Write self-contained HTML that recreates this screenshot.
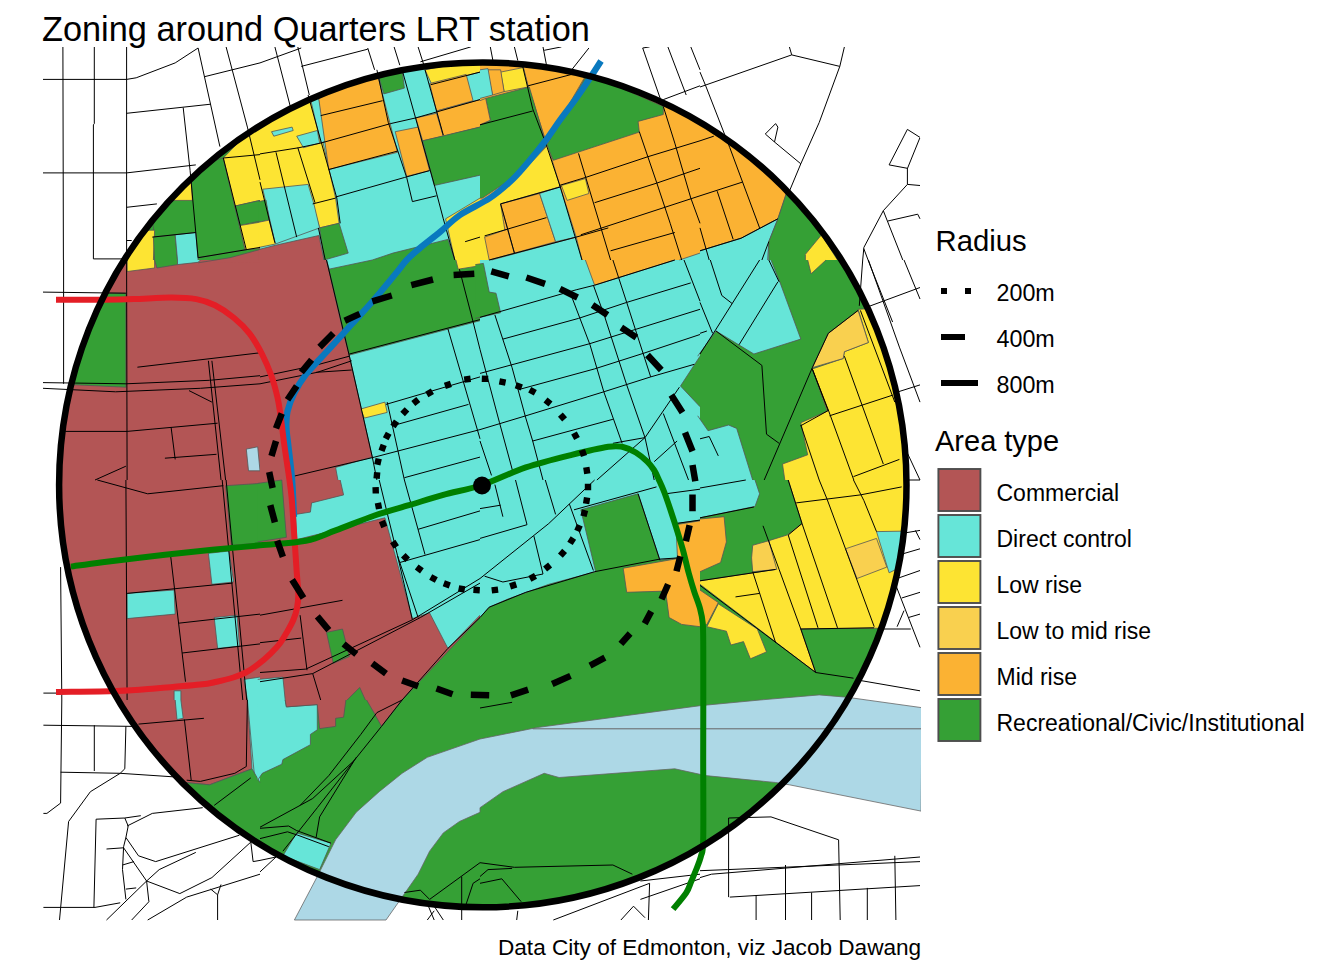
<!DOCTYPE html><html><head><meta charset="utf-8"><style>html,body{margin:0;padding:0;background:#fff;width:1344px;height:960px;overflow:hidden}svg{display:block}</style></head><body><svg width="1344" height="960" viewBox="0 0 1344 960">
<defs><clipPath id="cc"><ellipse cx="482.8" cy="484.9" rx="423.7" ry="422.4"/></clipPath><clipPath id="mr"><rect x="43" y="47" width="878" height="875"/></clipPath></defs>
<rect width="1344" height="960" fill="#fff"/>
<g clip-path="url(#cc)">
<polygon points="40,40 930,40 930,930 40,930" fill="#66E5D8" stroke="none"/>
<polygon points="40.0,40.0 260.0,40.0 260.0,260.0 40.0,260.0" fill="#35A035" stroke="none"/>
<polygon points="480.0,40.0 700.0,40.0 700.0,260.0 480.0,260.0" fill="#FBB233" stroke="none"/>
<polygon points="40.0,260.0 260.0,260.0 260.0,480.0 40.0,480.0" fill="#B35555" stroke="none"/>
<polygon points="700.0,260.0 920.0,260.0 920.0,480.0 700.0,480.0" fill="#35A035" stroke="none"/>
<polygon points="40.0,480.0 260.0,480.0 260.0,700.0 40.0,700.0" fill="#B35555" stroke="none"/>
<polygon points="260.0,480.0 480.0,480.0 480.0,700.0 260.0,700.0" fill="#B35555" stroke="none"/>
<polygon points="480.0,480.0 700.0,480.0 700.0,700.0 480.0,700.0" fill="#35A035" stroke="none"/>
<polygon points="700.0,480.0 920.0,480.0 920.0,700.0 700.0,700.0" fill="#35A035" stroke="none"/>
<polygon points="260.0,700.0 480.0,700.0 480.0,920.0 260.0,920.0" fill="#35A035" stroke="none"/>
<polygon points="480.0,700.0 700.0,700.0 700.0,920.0 480.0,920.0" fill="#35A035" stroke="none"/>
<polygon points="700.0,700.0 920.0,700.0 920.0,920.0 700.0,920.0" fill="#35A035" stroke="none"/>
<polygon points="186.7,168.3 223.3,158.0 245.1,249.7 198.1,257.7 177.5,260.0 154.6,237.1 150.0,200.4 168.3,198.1" fill="#35A035"/>
<path d="M186.7,168.3L223.3,158.0M223.3,158.0L245.1,249.7M245.1,249.7L198.1,257.7M198.1,257.7L177.5,260.0M177.5,260.0L154.6,237.1M154.6,237.1L150.0,200.4M150.0,200.4L168.3,198.1M168.3,198.1L186.7,168.3" fill="none" stroke="#555" stroke-width="0.8"/>
<polygon points="223.3,158.0 260.0,120.2 260.0,200.4 234.8,206.1" fill="#FDE433"/>
<path d="M223.3,158.0L260.0,120.2M260.0,200.4L234.8,206.1M234.8,206.1L223.3,158.0" fill="none" stroke="#555" stroke-width="0.8"/>
<polygon points="234.8,206.1 260.0,200.4 260.0,221.0 239.6,225.6" fill="#35A035"/>
<path d="M234.8,206.1L260.0,200.4M260.0,221.0L239.6,225.6M239.6,225.6L234.8,206.1" fill="none" stroke="#555" stroke-width="0.8"/>
<polygon points="239.6,225.6 260.0,222.2 260.0,248.5 245.1,249.7" fill="#FDE433"/>
<path d="M239.6,225.6L260.0,222.2M260.0,248.5L245.1,249.7M245.1,249.7L239.6,225.6" fill="none" stroke="#555" stroke-width="0.8"/>
<polygon points="168.3,200.4 191.2,177.5 192.4,200.4" fill="#FDE433"/>
<path d="M168.3,200.4L191.2,177.5M191.2,177.5L192.4,200.4M192.4,200.4L168.3,200.4" fill="none" stroke="#555" stroke-width="0.8"/>
<polygon points="127.1,260.0 138.5,230.2 154.6,230.2 153.4,260.0" fill="#FDE433"/>
<path d="M127.1,260.0L138.5,230.2M138.5,230.2L154.6,230.2M154.6,230.2L153.4,260.0" fill="none" stroke="#555" stroke-width="0.8"/>
<polygon points="153.4,237.1 175.2,234.8 177.5,260.0 154.6,260.0" fill="#35A035"/>
<path d="M153.4,237.1L175.2,234.8M175.2,234.8L177.5,260.0M154.6,260.0L153.4,237.1" fill="none" stroke="#555" stroke-width="0.8"/>
<polygon points="175.2,234.8 195.8,232.5 198.1,260.0 177.5,260.0" fill="#66E5D8"/>
<path d="M175.2,234.8L195.8,232.5M195.8,232.5L198.1,260.0M177.5,260.0L175.2,234.8" fill="none" stroke="#555" stroke-width="0.8"/>
<polygon points="198.1,262.8 230.0,257.7 261.1,249.2 261.1,262.3" fill="#B35555"/>
<path d="M198.1,262.8L230.0,257.7M230.0,257.7L261.1,249.2" fill="none" stroke="#555" stroke-width="0.8"/>
<polygon points="260.0,124.8 312.7,97.3 335.6,198.1 339.1,223.3 319.6,227.9 312.7,203.9 260.0,214.2" fill="#FDE433"/>
<path d="M260.0,124.8L312.7,97.3M312.7,97.3L335.6,198.1M335.6,198.1L339.1,223.3M339.1,223.3L319.6,227.9M319.6,227.9L312.7,203.9M312.7,203.9L260.0,214.2" fill="none" stroke="#555" stroke-width="0.8"/>
<polygon points="310.4,98.4 318.4,95.0 326.5,140.8 320.7,143.1" fill="#66E5D8"/>
<path d="M310.4,98.4L318.4,95.0M318.4,95.0L326.5,140.8M326.5,140.8L320.7,143.1M320.7,143.1L310.4,98.4" fill="none" stroke="#555" stroke-width="0.8"/>
<polygon points="271.5,131.7 292.1,127.1 293.2,130.5 273.8,136.2" fill="#66E5D8"/>
<path d="M271.5,131.7L292.1,127.1M292.1,127.1L293.2,130.5M293.2,130.5L273.8,136.2M273.8,136.2L271.5,131.7" fill="none" stroke="#555" stroke-width="0.8"/>
<polygon points="296.7,136.2 317.3,130.5 319.6,143.1 303.5,147.7" fill="#66E5D8"/>
<path d="M296.7,136.2L317.3,130.5M317.3,130.5L319.6,143.1M319.6,143.1L303.5,147.7M303.5,147.7L296.7,136.2" fill="none" stroke="#555" stroke-width="0.8"/>
<polygon points="262.8,189.2 308.1,184.4 313.9,203.9 319.6,227.9 275.4,244.0" fill="#66E5D8"/>
<path d="M262.8,189.2L308.1,184.4M308.1,184.4L313.9,203.9M313.9,203.9L319.6,227.9M319.6,227.9L275.4,244.0M275.4,244.0L262.8,189.2" fill="none" stroke="#555" stroke-width="0.8"/>
<polygon points="258.9,201.6 266.0,200.0 269.2,220.1 258.9,222.2" fill="#35A035"/>
<path d="M258.9,201.6L266.0,200.0M266.0,200.0L269.2,220.1M269.2,220.1L258.9,222.2" fill="none" stroke="#555" stroke-width="0.8"/>
<polygon points="258.9,222.2 269.2,220.1 275.4,244.0 258.9,247.4" fill="#FDE433"/>
<path d="M258.9,222.2L269.2,220.1M269.2,220.1L275.4,244.0M275.4,244.0L258.9,247.4" fill="none" stroke="#555" stroke-width="0.8"/>
<polygon points="258.9,249.5 275.4,245.3 318.9,235.5 324.2,261.1 258.9,261.1" fill="#B35555"/>
<path d="M258.9,249.5L275.4,245.3M275.4,245.3L318.9,235.5M318.9,235.5L324.2,261.1" fill="none" stroke="#555" stroke-width="0.8"/>
<polygon points="319.6,227.9 339.1,223.3 348.2,253.1 324.2,260.0" fill="#35A035"/>
<path d="M319.6,227.9L339.1,223.3M339.1,223.3L348.2,253.1M348.2,253.1L324.2,260.0M324.2,260.0L319.6,227.9" fill="none" stroke="#555" stroke-width="0.8"/>
<polygon points="318.4,96.1 378.0,76.7 397.5,152.3 328.8,169.5" fill="#FBB233"/>
<path d="M318.4,96.1L378.0,76.7M378.0,76.7L397.5,152.3M397.5,152.3L328.8,169.5M328.8,169.5L318.4,96.1" fill="none" stroke="#555" stroke-width="0.8"/>
<polygon points="378.0,74.4 402.1,69.8 404.4,88.1 383.8,93.9" fill="#35A035"/>
<path d="M378.0,74.4L402.1,69.8M402.1,69.8L404.4,88.1M404.4,88.1L383.8,93.9M383.8,93.9L378.0,74.4" fill="none" stroke="#555" stroke-width="0.8"/>
<polygon points="395.2,131.7 418.1,127.1 429.6,170.6 406.7,176.4" fill="#FBB233"/>
<path d="M395.2,131.7L418.1,127.1M418.1,127.1L429.6,170.6M429.6,170.6L406.7,176.4M406.7,176.4L395.2,131.7" fill="none" stroke="#555" stroke-width="0.8"/>
<polygon points="415.8,117.9 436.5,113.3 443.3,136.2 422.7,140.8" fill="#FBB233"/>
<path d="M415.8,117.9L436.5,113.3M436.5,113.3L443.3,136.2M443.3,136.2L422.7,140.8M422.7,140.8L415.8,117.9" fill="none" stroke="#555" stroke-width="0.8"/>
<polygon points="425.0,69.8 480.0,58.3 480.0,72.1 431.9,84.7" fill="#FDE433"/>
<path d="M425.0,69.8L480.0,58.3M480.0,72.1L431.9,84.7M431.9,84.7L425.0,69.8" fill="none" stroke="#555" stroke-width="0.8"/>
<polygon points="429.6,83.5 466.2,74.4 473.1,100.7 436.5,111.0" fill="#FBB233"/>
<path d="M429.6,83.5L466.2,74.4M466.2,74.4L473.1,100.7M473.1,100.7L436.5,111.0M436.5,111.0L429.6,83.5" fill="none" stroke="#555" stroke-width="0.8"/>
<polygon points="436.5,111.0 480.0,99.6 480.0,127.1 443.3,136.2" fill="#FBB233"/>
<path d="M436.5,111.0L480.0,99.6M480.0,127.1L443.3,136.2M443.3,136.2L436.5,111.0" fill="none" stroke="#555" stroke-width="0.8"/>
<polygon points="422.7,140.8 480.0,127.1 480.0,175.2 434.2,185.5" fill="#35A035"/>
<path d="M422.7,140.8L480.0,127.1M480.0,175.2L434.2,185.5M434.2,185.5L422.7,140.8" fill="none" stroke="#555" stroke-width="0.8"/>
<polygon points="445.6,218.8 480.0,198.1 480.0,260.0 454.8,260.0" fill="#FDE433"/>
<path d="M445.6,218.8L480.0,198.1M454.8,260.0L445.6,218.8" fill="none" stroke="#555" stroke-width="0.8"/>
<polygon points="372.3,260.0 392.9,253.1 447.9,239.4 454.8,260.0" fill="#35A035"/>
<path d="M372.3,260.0L392.9,253.1M392.9,253.1L447.9,239.4M447.9,239.4L454.8,260.0" fill="none" stroke="#555" stroke-width="0.8"/>
<polygon points="587.7,73.2 663.3,106.5 663.3,114.5 638.1,121.4 639.3,132.1 553.3,160.3 546.5,145.4" fill="#35A035"/>
<path d="M587.7,73.2L663.3,106.5M663.3,106.5L663.3,114.5M663.3,114.5L638.1,121.4M638.1,121.4L639.3,132.1M639.3,132.1L553.3,160.3M553.3,160.3L546.5,145.4M546.5,145.4L587.7,73.2" fill="none" stroke="#555" stroke-width="0.8"/>
<polygon points="522.4,65.2 587.7,72.1 546.5,143.1 528.1,85.8" fill="#FBB233"/>
<path d="M522.4,65.2L587.7,72.1M587.7,72.1L546.5,143.1M546.5,143.1L528.1,85.8M528.1,85.8L522.4,65.2" fill="none" stroke="#555" stroke-width="0.8"/>
<polygon points="500.6,72.1 523.5,67.5 528.1,87.0 504.1,91.6" fill="#FDE433"/>
<path d="M500.6,72.1L523.5,67.5M523.5,67.5L528.1,87.0M528.1,87.0L504.1,91.6M504.1,91.6L500.6,72.1" fill="none" stroke="#555" stroke-width="0.8"/>
<polygon points="486.9,69.8 500.6,69.8 504.1,91.6 492.6,95.0" fill="#FBB233"/>
<path d="M486.9,69.8L500.6,69.8M500.6,69.8L504.1,91.6M504.1,91.6L492.6,95.0M492.6,95.0L486.9,69.8" fill="none" stroke="#555" stroke-width="0.8"/>
<polygon points="480.0,69.8 488.0,68.6 492.6,95.0 480.0,98.4" fill="#66E5D8"/>
<path d="M480.0,69.8L488.0,68.6M488.0,68.6L492.6,95.0M492.6,95.0L480.0,98.4" fill="none" stroke="#555" stroke-width="0.8"/>
<polygon points="485.7,98.4 529.3,87.0 546.5,145.4 516.7,175.2 482.3,198.1 480.0,198.1 480.0,124.8 490.3,120.2" fill="#35A035"/>
<path d="M485.7,98.4L529.3,87.0M529.3,87.0L546.5,145.4M546.5,145.4L516.7,175.2M516.7,175.2L482.3,198.1M482.3,198.1L480.0,198.1M480.0,124.8L490.3,120.2M490.3,120.2L485.7,98.4" fill="none" stroke="#555" stroke-width="0.8"/>
<polygon points="480.0,100.7 485.7,98.4 490.3,120.2 480.0,124.8" fill="#FBB233"/>
<path d="M480.0,100.7L485.7,98.4M485.7,98.4L490.3,120.2M490.3,120.2L480.0,124.8" fill="none" stroke="#555" stroke-width="0.8"/>
<polygon points="480.0,205.0 516.7,177.5 547.6,145.4 560.2,186.7 500.6,203.9 509.8,260.0 480.0,260.0" fill="#FDE433"/>
<path d="M480.0,205.0L516.7,177.5M516.7,177.5L547.6,145.4M547.6,145.4L560.2,186.7M560.2,186.7L500.6,203.9M500.6,203.9L509.8,260.0" fill="none" stroke="#555" stroke-width="0.8"/>
<polygon points="500.6,203.9 539.6,193.5 555.6,241.7 514.4,253.1" fill="#FBB233"/>
<path d="M500.6,203.9L539.6,193.5M539.6,193.5L555.6,241.7M555.6,241.7L514.4,253.1M514.4,253.1L500.6,203.9" fill="none" stroke="#555" stroke-width="0.8"/>
<polygon points="484.6,237.1 507.5,229.1 514.4,253.1 489.2,260.0" fill="#FBB233"/>
<path d="M484.6,237.1L507.5,229.1M507.5,229.1L514.4,253.1M514.4,253.1L489.2,260.0M489.2,260.0L484.6,237.1" fill="none" stroke="#555" stroke-width="0.8"/>
<polygon points="539.6,193.5 560.2,186.7 576.2,237.1 555.6,241.7" fill="#66E5D8"/>
<path d="M539.6,193.5L560.2,186.7M560.2,186.7L576.2,237.1M576.2,237.1L555.6,241.7M555.6,241.7L539.6,193.5" fill="none" stroke="#555" stroke-width="0.8"/>
<polygon points="491.5,260.0 576.2,237.1 582.0,260.0" fill="#66E5D8"/>
<path d="M491.5,260.0L576.2,237.1M576.2,237.1L582.0,260.0" fill="none" stroke="#555" stroke-width="0.8"/>
<polygon points="561.4,185.5 585.4,178.6 588.9,193.5 567.1,200.4" fill="#FDE433"/>
<path d="M561.4,185.5L585.4,178.6M585.4,178.6L588.9,193.5M588.9,193.5L567.1,200.4M567.1,200.4L561.4,185.5" fill="none" stroke="#555" stroke-width="0.8"/>
<polygon points="679.4,260.0 700.0,253.1 700.0,260.0" fill="#66E5D8"/>
<path d="M679.4,260.0L700.0,253.1" fill="none" stroke="#555" stroke-width="0.8"/>
<polygon points="700.0,108.8 787.1,191.2 777.9,218.8 741.2,238.2 700.0,250.8" fill="#FBB233"/>
<path d="M700.0,108.8L787.1,191.2M787.1,191.2L777.9,218.8M777.9,218.8L741.2,238.2M741.2,238.2L700.0,250.8" fill="none" stroke="#555" stroke-width="0.8"/>
<polygon points="700.0,250.8 741.2,238.2 777.9,218.8 768.8,241.7 767.6,260.0 700.0,260.0" fill="#66E5D8"/>
<path d="M700.0,250.8L741.2,238.2M741.2,238.2L777.9,218.8M777.9,218.8L768.8,241.7M768.8,241.7L767.6,260.0" fill="none" stroke="#555" stroke-width="0.8"/>
<polygon points="787.1,191.2 860.4,260.0 768.8,260.0 768.8,241.7 777.9,218.8" fill="#35A035"/>
<path d="M787.1,191.2L860.4,260.0M768.8,260.0L768.8,241.7M768.8,241.7L777.9,218.8M777.9,218.8L787.1,191.2" fill="none" stroke="#555" stroke-width="0.8"/>
<polygon points="805.4,254.3 821.5,234.8 837.5,260.0 805.4,260.0" fill="#FDE433"/>
<path d="M805.4,254.3L821.5,234.8M821.5,234.8L837.5,260.0M805.4,260.0L805.4,254.3" fill="none" stroke="#555" stroke-width="0.8"/>
<polygon points="53.8,293.2 125.9,293.2 125.9,387.2 53.8,383.8" fill="#35A035"/>
<path d="M53.8,293.2L125.9,293.2M125.9,293.2L125.9,387.2M125.9,387.2L53.8,383.8M53.8,383.8L53.8,293.2" fill="none" stroke="#555" stroke-width="0.8"/>
<polygon points="127.1,260.0 154.6,260.0 154.6,268.0 127.1,271.5" fill="#FDE433"/>
<path d="M154.6,260.0L154.6,268.0M154.6,268.0L127.1,271.5M127.1,271.5L127.1,260.0" fill="none" stroke="#555" stroke-width="0.8"/>
<polygon points="154.6,260.0 177.5,260.0 177.5,264.6 156.9,268.0" fill="#35A035"/>
<path d="M177.5,260.0L177.5,264.6M177.5,264.6L156.9,268.0M156.9,268.0L154.6,260.0" fill="none" stroke="#555" stroke-width="0.8"/>
<polygon points="177.5,260.0 200.4,260.0 198.1,262.3 177.5,264.6" fill="#66E5D8"/>
<path d="M200.4,260.0L198.1,262.3M198.1,262.3L177.5,264.6M177.5,264.6L177.5,260.0" fill="none" stroke="#555" stroke-width="0.8"/>
<polygon points="246.3,449.1 257.7,446.8 260.0,470.8 248.5,470.8" fill="#ADD8E6"/>
<path d="M246.3,449.1L257.7,446.8M257.7,446.8L260.0,470.8M260.0,470.8L248.5,470.8M248.5,470.8L246.3,449.1" fill="none" stroke="#555" stroke-width="0.8"/>
<polygon points="260.0,260.0 326.5,260.0 342.5,328.8 349.4,356.2 372.3,457.1 335.6,467.4 337.9,480.0 260.0,480.0" fill="#B35555"/>
<path d="M326.5,260.0L342.5,328.8M342.5,328.8L349.4,356.2M349.4,356.2L372.3,457.1M372.3,457.1L335.6,467.4M335.6,467.4L337.9,480.0" fill="none" stroke="#555" stroke-width="0.8"/>
<polygon points="326.5,260.0 372.3,260.0 372.3,262.3 331.0,274.9" fill="#66E5D8"/>
<path d="M372.3,260.0L372.3,262.3M372.3,262.3L331.0,274.9M331.0,274.9L326.5,260.0" fill="none" stroke="#555" stroke-width="0.8"/>
<polygon points="328.8,269.2 372.3,260.0 480.0,260.0 480.0,320.7 349.4,355.1" fill="#35A035"/>
<path d="M328.8,269.2L372.3,260.0M480.0,320.7L349.4,355.1M349.4,355.1L328.8,269.2" fill="none" stroke="#555" stroke-width="0.8"/>
<polygon points="455.9,260.0 480.0,260.0 480.0,265.7 458.2,269.2" fill="#FDE433"/>
<path d="M480.0,265.7L458.2,269.2M458.2,269.2L455.9,260.0" fill="none" stroke="#555" stroke-width="0.8"/>
<polygon points="360.8,409.0 384.9,402.1 387.2,412.4 364.3,418.1" fill="#FDE433"/>
<path d="M360.8,409.0L384.9,402.1M384.9,402.1L387.2,412.4M387.2,412.4L364.3,418.1M364.3,418.1L360.8,409.0" fill="none" stroke="#555" stroke-width="0.8"/>
<polygon points="475.4,264.6 483.4,263.4 489.2,292.1 496.0,293.2 500.6,312.7 475.4,318.4" fill="#35A035"/>
<path d="M475.4,264.6L483.4,263.4M483.4,263.4L489.2,292.1M489.2,292.1L496.0,293.2M496.0,293.2L500.6,312.7M500.6,312.7L475.4,318.4" fill="none" stroke="#555" stroke-width="0.8"/>
<polygon points="585.4,260.0 674.8,260.0 594.6,285.2" fill="#FBB233"/>
<path d="M674.8,260.0L594.6,285.2M594.6,285.2L585.4,260.0" fill="none" stroke="#555" stroke-width="0.8"/>
<polygon points="680.5,386.0 700.0,356.2 700.0,406.7" fill="#35A035"/>
<path d="M680.5,386.0L700.0,356.2M700.0,406.7L680.5,386.0" fill="none" stroke="#555" stroke-width="0.8"/>
<polygon points="697.7,260.0 771.0,260.0 780.2,282.9 800.8,339.1 753.9,354.0 716.0,331.0 697.7,356.2" fill="#66E5D8"/>
<path d="M771.0,260.0L780.2,282.9M780.2,282.9L800.8,339.1M800.8,339.1L753.9,354.0M753.9,354.0L716.0,331.0M716.0,331.0L697.7,356.2" fill="none" stroke="#555" stroke-width="0.8"/>
<polygon points="697.7,415.8 708.0,430.7 728.6,425.0 736.7,428.4 752.7,480.0 697.7,480.0" fill="#66E5D8"/>
<path d="M697.7,415.8L708.0,430.7M708.0,430.7L728.6,425.0M728.6,425.0L736.7,428.4M736.7,428.4L752.7,480.0" fill="none" stroke="#555" stroke-width="0.8"/>
<polygon points="807.7,260.0 826.0,260.0 811.1,273.8" fill="#FDE433"/>
<path d="M826.0,260.0L811.1,273.8M811.1,273.8L807.7,260.0" fill="none" stroke="#555" stroke-width="0.8"/>
<polygon points="858.1,309.3 920.0,305.8 920.0,480.0 784.8,480.0 782.5,464.0 807.7,454.8 800.8,422.7 827.2,411.2 812.3,368.9 843.2,358.5 844.4,351.7 868.4,342.5" fill="#FDE433"/>
<path d="M858.1,309.3L920.0,305.8M784.8,480.0L782.5,464.0M782.5,464.0L807.7,454.8M807.7,454.8L800.8,422.7M800.8,422.7L827.2,411.2M827.2,411.2L812.3,368.9M812.3,368.9L843.2,358.5M843.2,358.5L844.4,351.7M844.4,351.7L868.4,342.5M868.4,342.5L858.1,309.3" fill="none" stroke="#555" stroke-width="0.8"/>
<polygon points="812.3,367.7 828.3,333.3 858.1,310.4 868.4,342.5 844.4,351.7 843.2,358.5" fill="#F9D04F"/>
<path d="M812.3,367.7L828.3,333.3M828.3,333.3L858.1,310.4M858.1,310.4L868.4,342.5M868.4,342.5L844.4,351.7M844.4,351.7L843.2,358.5M843.2,358.5L812.3,367.7" fill="none" stroke="#555" stroke-width="0.8"/>
<polygon points="225.6,485.7 260.0,483.4 260.0,543.0 231.4,545.3" fill="#35A035"/>
<path d="M225.6,485.7L260.0,483.4M260.0,543.0L231.4,545.3M231.4,545.3L225.6,485.7" fill="none" stroke="#555" stroke-width="0.8"/>
<polygon points="208.4,553.3 229.1,551.0 233.6,582.0 211.9,584.3" fill="#66E5D8"/>
<path d="M208.4,553.3L229.1,551.0M229.1,551.0L233.6,582.0M233.6,582.0L211.9,584.3M211.9,584.3L208.4,553.3" fill="none" stroke="#555" stroke-width="0.8"/>
<polygon points="127.1,593.4 174.1,590.0 175.2,614.1 127.1,618.6" fill="#66E5D8"/>
<path d="M127.1,593.4L174.1,590.0M174.1,590.0L175.2,614.1M175.2,614.1L127.1,618.6M127.1,618.6L127.1,593.4" fill="none" stroke="#555" stroke-width="0.8"/>
<polygon points="214.2,617.5 237.1,615.2 239.4,646.1 217.6,648.4" fill="#66E5D8"/>
<path d="M214.2,617.5L237.1,615.2M237.1,615.2L239.4,646.1M239.4,646.1L217.6,648.4M217.6,648.4L214.2,617.5" fill="none" stroke="#555" stroke-width="0.8"/>
<polygon points="174.1,690.8 180.9,690.8 180.9,700.0 174.1,700.0" fill="#66E5D8"/>
<path d="M174.1,690.8L180.9,690.8M180.9,690.8L180.9,700.0M174.1,700.0L174.1,690.8" fill="none" stroke="#555" stroke-width="0.8"/>
<polygon points="244.0,679.4 260.0,677.1 260.0,700.0 247.4,700.0" fill="#66E5D8"/>
<path d="M244.0,679.4L260.0,677.1M247.4,700.0L244.0,679.4" fill="none" stroke="#555" stroke-width="0.8"/>
<polygon points="257.7,483.4 281.8,480.0 286.4,537.3 257.7,541.9" fill="#35A035"/>
<path d="M257.7,483.4L281.8,480.0M281.8,480.0L286.4,537.3M286.4,537.3L257.7,541.9" fill="none" stroke="#555" stroke-width="0.8"/>
<polygon points="340.2,480.0 343.6,494.9 311.6,502.9 310.4,512.1 295.5,514.4 296.7,539.6 384.9,517.8 412.4,618.6 429.6,612.9 447.9,648.4 480.0,615.2 480.0,480.0" fill="#66E5D8"/>
<path d="M340.2,480.0L343.6,494.9M343.6,494.9L311.6,502.9M311.6,502.9L310.4,512.1M310.4,512.1L295.5,514.4M295.5,514.4L296.7,539.6M296.7,539.6L384.9,517.8M384.9,517.8L412.4,618.6M412.4,618.6L429.6,612.9M429.6,612.9L447.9,648.4M447.9,648.4L480.0,615.2" fill="none" stroke="#555" stroke-width="0.8"/>
<polygon points="402.1,700.0 480.0,617.5 480.0,700.0" fill="#35A035"/>
<path d="M402.1,700.0L480.0,617.5" fill="none" stroke="#555" stroke-width="0.8"/>
<polygon points="326.5,632.4 342.5,629.0 349.4,656.5 333.3,663.3" fill="#35A035"/>
<path d="M326.5,632.4L342.5,629.0M342.5,629.0L349.4,656.5M349.4,656.5L333.3,663.3M333.3,663.3L326.5,632.4" fill="none" stroke="#555" stroke-width="0.8"/>
<polygon points="347.1,700.0 359.7,687.4 365.4,700.0" fill="#35A035"/>
<path d="M347.1,700.0L359.7,687.4M359.7,687.4L365.4,700.0" fill="none" stroke="#555" stroke-width="0.8"/>
<polygon points="257.7,679.4 282.9,677.1 285.2,700.0 257.7,700.0" fill="#66E5D8"/>
<path d="M257.7,679.4L282.9,677.1M282.9,677.1L285.2,700.0" fill="none" stroke="#555" stroke-width="0.8"/>
<polygon points="480.0,480.0 700.0,480.0 700.0,520.1 677.1,523.5 678.2,557.9 659.9,560.2 638.1,493.8 580.8,509.8 595.7,571.7 548.8,584.3 507.5,599.2 489.2,607.2 480.0,617.5" fill="#66E5D8"/>
<path d="M700.0,520.1L677.1,523.5M677.1,523.5L678.2,557.9M678.2,557.9L659.9,560.2M659.9,560.2L638.1,493.8M638.1,493.8L580.8,509.8M580.8,509.8L595.7,571.7M595.7,571.7L548.8,584.3M548.8,584.3L507.5,599.2M507.5,599.2L489.2,607.2M489.2,607.2L480.0,617.5" fill="none" stroke="#555" stroke-width="0.8"/>
<polygon points="623.2,568.2 677.5,558.6 675.9,524.7 700.0,520.8 700.0,626.7 681.7,624.4 669.1,617.5 665.6,591.1 626.7,592.3" fill="#FBB233"/>
<path d="M623.2,568.2L677.5,558.6M677.5,558.6L675.9,524.7M675.9,524.7L700.0,520.8M700.0,626.7L681.7,624.4M681.7,624.4L669.1,617.5M669.1,617.5L665.6,591.1M665.6,591.1L626.7,592.3M626.7,592.3L623.2,568.2" fill="none" stroke="#555" stroke-width="0.8"/>
<polygon points="700.0,480.0 755.0,480.0 759.6,493.8 755.0,506.4 700.0,517.8" fill="#66E5D8"/>
<path d="M755.0,480.0L759.6,493.8M759.6,493.8L755.0,506.4M755.0,506.4L700.0,517.8" fill="none" stroke="#555" stroke-width="0.8"/>
<polygon points="700.0,519.0 724.1,516.7 726.4,541.9 720.6,562.5 700.0,571.7" fill="#FBB233"/>
<path d="M700.0,519.0L724.1,516.7M724.1,516.7L726.4,541.9M726.4,541.9L720.6,562.5M720.6,562.5L700.0,571.7" fill="none" stroke="#555" stroke-width="0.8"/>
<polygon points="788.2,480.0 920.0,480.0 920.0,627.8 800.8,629.0 815.7,672.5 700.0,584.3 700.0,580.8 775.6,569.4 768.8,540.7 787.1,535.0 802.0,523.5" fill="#FDE433"/>
<path d="M920.0,627.8L800.8,629.0M800.8,629.0L815.7,672.5M815.7,672.5L700.0,584.3M700.0,580.8L775.6,569.4M775.6,569.4L768.8,540.7M768.8,540.7L787.1,535.0M787.1,535.0L802.0,523.5M802.0,523.5L788.2,480.0" fill="none" stroke="#555" stroke-width="0.8"/>
<polygon points="752.7,545.3 768.8,540.7 776.8,569.4 752.7,571.7 751.6,557.9" fill="#F9D04F"/>
<path d="M752.7,545.3L768.8,540.7M768.8,540.7L776.8,569.4M776.8,569.4L752.7,571.7M752.7,571.7L751.6,557.9M751.6,557.9L752.7,545.3" fill="none" stroke="#555" stroke-width="0.8"/>
<polygon points="845.5,548.8 876.5,538.4 886.8,567.1 857.0,578.5" fill="#F9D04F"/>
<path d="M845.5,548.8L876.5,538.4M876.5,538.4L886.8,567.1M886.8,567.1L857.0,578.5M857.0,578.5L845.5,548.8" fill="none" stroke="#555" stroke-width="0.8"/>
<polygon points="876.5,531.6 920.0,530.9 920.0,557.9 889.1,572.8" fill="#66E5D8"/>
<path d="M876.5,531.6L920.0,530.9M920.0,557.9L889.1,572.8M889.1,572.8L876.5,531.6" fill="none" stroke="#555" stroke-width="0.8"/>
<polygon points="706.9,626.7 718.3,603.8 757.3,629.0 766.5,651.9 750.4,658.8 743.5,641.6 730.9,645.0 726.4,631.2" fill="#FDE433"/>
<path d="M706.9,626.7L718.3,603.8M718.3,603.8L757.3,629.0M757.3,629.0L766.5,651.9M766.5,651.9L750.4,658.8M750.4,658.8L743.5,641.6M743.5,641.6L730.9,645.0M730.9,645.0L726.4,631.2M726.4,631.2L706.9,626.7" fill="none" stroke="#555" stroke-width="0.8"/>
<polygon points="700.0,590.0 718.3,602.6 706.9,624.4 700.0,626.7" fill="#FBB233"/>
<path d="M700.0,590.0L718.3,602.6M718.3,602.6L706.9,624.4M706.9,624.4L700.0,626.7" fill="none" stroke="#555" stroke-width="0.8"/>
<polygon points="108.8,700.0 247.4,700.0 252.0,768.8 209.6,784.8 184.4,782.5 131.7,734.4" fill="#B35555"/>
<path d="M247.4,700.0L252.0,768.8M252.0,768.8L209.6,784.8M209.6,784.8L184.4,782.5M184.4,782.5L131.7,734.4M131.7,734.4L108.8,700.0" fill="none" stroke="#555" stroke-width="0.8"/>
<polygon points="175.2,700.0 180.9,700.0 183.2,718.3 177.0,719.5" fill="#66E5D8"/>
<path d="M180.9,700.0L183.2,718.3M183.2,718.3L177.0,719.5M177.0,719.5L175.2,700.0" fill="none" stroke="#555" stroke-width="0.8"/>
<polygon points="247.4,700.0 260.0,700.0 260.0,782.5 255.4,784.8 253.1,761.9" fill="#66E5D8"/>
<path d="M260.0,782.5L255.4,784.8M255.4,784.8L253.1,761.9M253.1,761.9L247.4,700.0" fill="none" stroke="#555" stroke-width="0.8"/>
<polygon points="184.4,782.5 209.6,784.8 252.0,768.8 260.0,782.5 260.0,920.0 177.5,920.0" fill="#35A035"/>
<path d="M184.4,782.5L209.6,784.8M209.6,784.8L252.0,768.8M252.0,768.8L260.0,782.5M177.5,920.0L184.4,782.5" fill="none" stroke="#555" stroke-width="0.8"/>
<polygon points="257.7,700.0 285.2,700.0 286.4,706.9 317.3,704.6 317.3,729.8 310.4,734.4 310.4,744.7 282.9,759.6 281.8,764.2 262.3,773.3 257.7,780.2" fill="#66E5D8"/>
<path d="M285.2,700.0L286.4,706.9M286.4,706.9L317.3,704.6M317.3,704.6L317.3,729.8M317.3,729.8L310.4,734.4M310.4,734.4L310.4,744.7M310.4,744.7L282.9,759.6M282.9,759.6L281.8,764.2M281.8,764.2L262.3,773.3M262.3,773.3L257.7,780.2" fill="none" stroke="#555" stroke-width="0.8"/>
<polygon points="285.2,700.0 345.9,700.0 343.6,717.2 335.6,718.3 335.6,726.4 319.6,728.6 317.3,704.6 286.4,706.9" fill="#B35555"/>
<path d="M345.9,700.0L343.6,717.2M343.6,717.2L335.6,718.3M335.6,718.3L335.6,726.4M335.6,726.4L319.6,728.6M319.6,728.6L317.3,704.6M317.3,704.6L286.4,706.9M286.4,706.9L285.2,700.0" fill="none" stroke="#555" stroke-width="0.8"/>
<polygon points="366.6,700.0 402.1,700.0 381.5,726.4 374.6,713.8" fill="#B35555"/>
<path d="M402.1,700.0L381.5,726.4M381.5,726.4L374.6,713.8M374.6,713.8L366.6,700.0" fill="none" stroke="#555" stroke-width="0.8"/>
<polygon points="296.7,832.9 331.0,843.2 319.6,869.6 282.9,855.8" fill="#66E5D8"/>
<path d="M296.7,832.9L331.0,843.2M331.0,843.2L319.6,869.6M319.6,869.6L282.9,855.8M282.9,855.8L296.7,832.9" fill="none" stroke="#555" stroke-width="0.8"/>
</g>
<g clip-path="url(#mr)"><polygon points="294.4,920.0 317.3,876.5 335.6,839.8 356.2,812.3 379.2,791.7 402.1,773.3 427.3,757.3 480.0,739.0 537.3,727.5 700.0,705.7 760,700 819.2,694.9 846.7,697.2 922,707.7 921.1,811.1 789.4,784.8 775.6,782.5 705.7,775.6 674.8,768.8 559.1,777.5 544.2,773.3 502.9,791.7 480.0,807.7 480.0,812.3 459.4,821.5 443.3,832.9 429.6,851.2 418.1,874.2 402.1,897.1 386.0,920.0" fill="#ADD8E6" stroke="#666" stroke-width="0.8"/><path d="M532.7,728.8 L922,728.8" stroke="#666" stroke-width="1"/></g>
<g id="streets" fill="none" stroke="#000" stroke-width="1" clip-path="url(#mr)"><polyline points="62.9,46.9 63.4,260.0"/>
<polyline points="94.3,46.9 94.3,123.6 93.4,124.8 93.4,258.9 122.5,258.9"/>
<polyline points="126.6,46.9 126.6,260.0"/>
<polyline points="42.8,79.4 126.6,79.4 136.2,77.8 175.2,62.9 198.1,48.0"/>
<polyline points="198.1,48.0 219.9,146.6"/>
<polyline points="226.1,46.9 247.4,127.1 260.0,179.8"/>
<polyline points="204.5,76.7 260.0,62.9"/>
<polyline points="126.6,113.3 210.7,104.2"/>
<polyline points="183.2,107.6 190.1,170.6 198.1,257.7"/>
<polyline points="42.8,172.9 126.6,172.9 195.8,164.9"/>
<polyline points="126.6,207.3 156.9,203.9"/>
<polyline points="126.6,240.5 131.7,240.5"/>
<polyline points="223.3,158.0 246.3,249.7"/>
<polyline points="223.3,158.0 260.0,154.6"/>
<polyline points="198.1,257.7 260.0,247.4"/>
<polyline points="152.3,237.1 195.8,232.5"/>
<polyline points="274.9,46.9 290.9,108.8"/>
<polyline points="260.0,62.9 301.2,48.0"/>
<polyline points="297.8,46.9 309.3,95.0"/>
<polyline points="301.2,66.4 367.7,49.2"/>
<polyline points="367.7,48.0 374.6,69.8"/>
<polyline points="394.1,46.9 399.8,65.2"/>
<polyline points="418.1,46.9 423.9,65.2"/>
<polyline points="420.4,61.8 470.8,46.9"/>
<polyline points="260.0,153.9 299.0,147.7 320.7,143.1 390.6,123.6 415.8,117.9 480.0,99.6"/>
<polyline points="320.7,115.6 382.6,100.7"/>
<polyline points="328.8,169.5 397.5,151.1"/>
<polyline points="335.6,197.0 404.4,177.5 429.6,170.6"/>
<polyline points="312.7,203.9 335.6,198.1"/>
<polyline points="430.7,84.7 480.0,72.1"/>
<polyline points="412.4,201.6 436.5,195.8"/>
<polyline points="465.1,241.7 480.0,237.1"/>
<polyline points="308.1,95.0 336.8,198.1 340.2,223.3"/>
<polyline points="376.9,69.8 388.3,122.5 406.7,177.5 412.4,201.6"/>
<polyline points="402.1,69.8 418.1,127.1 434.2,184.4 443.3,218.8 454.8,260.0"/>
<polyline points="425.0,69.8 443.3,135.1"/>
<polyline points="276.0,152.3 296.7,237.1"/>
<polyline points="297.8,147.7 315.0,202.7"/>
<polyline points="318.4,227.9 325.3,260.0"/>
<polyline points="260.0,182.1 274.9,242.8"/>
<polyline points="490.3,46.9 493.8,65.2"/>
<polyline points="514.4,46.9 517.8,60.6"/>
<polyline points="543.0,46.9 546.5,65.2"/>
<polyline points="544.2,50.3 561.4,46.9"/>
<polyline points="571.7,69.8 588.9,48.0"/>
<polyline points="642.7,48.0 649.6,46.9"/>
<polyline points="642.7,48.0 661.0,100.7"/>
<polyline points="667.9,46.9 686.2,95.0"/>
<polyline points="690.8,46.9 700.0,69.8"/>
<polyline points="663.3,99.6 700.0,85.8"/>
<polyline points="522.4,65.2 532.7,108.8 546.5,145.4 560.2,186.7 582.0,260.0"/>
<polyline points="480.0,124.8 532.7,111.0"/>
<polyline points="528.1,85.8 571.7,74.4"/>
<polyline points="578.5,153.4 610.6,260.0"/>
<polyline points="639.3,131.7 656.5,182.1 670.2,223.3 681.7,260.0"/>
<polyline points="663.3,106.5 674.8,143.1 690.8,198.1 700.0,223.3"/>
<polyline points="500.6,203.9 561.4,186.7"/>
<polyline points="559.1,185.5 585.4,177.5 647.3,156.9 700.0,140.8"/>
<polyline points="484.6,235.9 546.5,217.6"/>
<polyline points="580.8,234.8 700.0,195.8"/>
<polyline points="594.6,202.7 656.5,183.2 700.0,168.3"/>
<polyline points="489.2,260.0 576.2,237.1 608.3,227.9"/>
<polyline points="610.6,250.8 674.8,232.5"/>
<polyline points="500.6,203.9 514.4,253.1"/>
<polyline points="700.0,72.1 705.7,85.8 729.8,147.7 759.6,227.9"/>
<polyline points="700.0,140.8 713.8,136.2"/>
<polyline points="700.0,195.8 742.4,182.1"/>
<polyline points="717.2,191.2 733.2,239.4"/>
<polyline points="700.0,227.9 709.2,260.0"/>
<polyline points="700.0,87.0 791.7,54.9"/>
<polyline points="789.4,46.9 791.7,54.9 839.8,66.4"/>
<polyline points="844.4,46.9 839.8,66.4 819.2,122.5 800.8,163.8 789.4,191.2"/>
<polyline points="765.3,134.0 775.6,123.6 777.9,127.1 774.5,142.0 765.3,134.0"/>
<polyline points="774.5,142.0 800.8,163.8"/>
<polyline points="889.1,164.9 907.4,129.4 920.0,137.4"/>
<polyline points="889.1,164.9 907.4,168.3 907.4,184.4 920.0,185.5"/>
<polyline points="907.4,184.4 883.3,210.7 863.9,247.4 862.7,260.0"/>
<polyline points="883.3,210.7 902.8,260.0"/>
<polyline points="887.9,221.0 917.7,214.2 920.0,218.8"/>
<polyline points="700.0,250.8 741.2,238.2 777.9,218.8"/>
<polyline points="768.8,241.7 761.9,260.0"/>
<polyline points="63.6,260.0 63.6,383.8"/>
<polyline points="126.6,260.0 127.1,480.0"/>
<polyline points="43.0,292.1 125.9,293.2"/>
<polyline points="43.0,382.6 125.9,383.8 209.6,380.3 260.0,375.7"/>
<polyline points="43.0,388.3 115.6,391.8 200.4,388.3 260.0,383.8"/>
<polyline points="137.4,367.2 260.0,352.8"/>
<polyline points="208.4,360.8 221.0,480.0"/>
<polyline points="211.9,360.8 225.6,480.0"/>
<polyline points="189.0,390.6 211.9,402.1"/>
<polyline points="65.2,431.4 127.1,431.4 217.6,423.2"/>
<polyline points="171.1,427.3 175.2,459.4"/>
<polyline points="164.9,458.2 216.5,454.3"/>
<polyline points="95.0,480.0 125.9,466.2"/>
<polyline points="326.5,260.0 349.4,356.2 372.3,457.1 376.9,480.0"/>
<polyline points="387.2,402.1 404.4,480.0"/>
<polyline points="447.9,328.8 480.0,438.8"/>
<polyline points="459.4,269.2 473.1,321.9 480.0,349.4"/>
<polyline points="349.4,354.0 480.0,319.6"/>
<polyline points="260.0,376.9 315.0,365.4 349.4,356.2"/>
<polyline points="260.0,383.8 317.3,372.3 351.7,360.8"/>
<polyline points="316.1,372.3 351.7,370.0"/>
<polyline points="386.0,404.4 480.0,376.9"/>
<polyline points="395.2,425.0 468.5,404.4"/>
<polyline points="374.6,457.1 480.0,429.6"/>
<polyline points="292.1,476.6 374.6,457.1"/>
<polyline points="404.4,477.7 480.0,457.1"/>
<polyline points="480.0,317.3 576.2,289.8 594.6,285.2 674.8,260.0"/>
<polyline points="502.9,339.1 578.5,318.4 626.7,302.4 690.8,282.9"/>
<polyline points="480.0,373.4 590.0,343.6 700.0,309.3"/>
<polyline points="519.0,389.5 594.6,368.9 645.0,352.8 700.0,334.5"/>
<polyline points="480.0,429.6 525.8,415.8 603.8,391.8 650.7,376.9 694.3,364.3"/>
<polyline points="532.7,441.0 612.9,419.3"/>
<polyline points="480.0,349.4 499.5,422.7 513.2,473.1"/>
<polyline points="494.9,315.0 512.1,367.7 525.8,418.1 532.7,441.0 543.0,480.0"/>
<polyline points="480.0,441.0 491.5,475.4"/>
<polyline points="571.7,296.7 590.0,344.8 603.8,391.8 622.1,443.3"/>
<polyline points="593.4,285.2 604.9,317.3 626.7,384.9 645.0,437.6 654.2,480.0"/>
<polyline points="612.9,260.0 626.7,302.4 638.1,337.9 650.7,376.9"/>
<polyline points="684.0,260.0 700.0,301.2"/>
<polyline points="663.3,413.5 688.5,480.0"/>
<polyline points="596.9,480.0 645.0,437.6 679.4,387.2"/>
<polyline points="612.9,443.3 645.0,437.6"/>
<polyline points="654.2,461.7 677.1,441.0"/>
<polyline points="862.7,260.0 859.3,305.8"/>
<polyline points="868.4,260.0 899.4,347.1 920.0,402.1"/>
<polyline points="904.0,260.0 920.0,299.0"/>
<polyline points="867.3,307.0 920.0,287.5"/>
<polyline points="898.2,391.8 920.0,384.9"/>
<polyline points="901.7,441.0 920.0,480.0"/>
<polyline points="710.3,260.0 721.8,295.5 732.1,303.5"/>
<polyline points="700.0,302.4 712.6,333.3"/>
<polyline points="700.0,333.3 706.9,331.0"/>
<polyline points="716.0,331.0 761.9,365.4 766.5,434.2 779.1,443.3"/>
<polyline points="759.6,260.0 714.9,331.0 700.0,354.0"/>
<polyline points="768.8,260.0 779.1,281.8"/>
<polyline points="777.9,281.8 739.0,344.8"/>
<polyline points="812.3,367.7 764.2,480.0"/>
<polyline points="812.3,368.9 828.3,411.2"/>
<polyline points="844.4,356.2 883.3,464.0"/>
<polyline points="829.5,415.8 892.5,395.2"/>
<polyline points="853.5,476.6 899.4,459.4"/>
<polyline points="800.8,425.0 819.2,480.0"/>
<polyline points="700.0,438.8 709.2,436.5 718.3,455.9"/>
<polyline points="860.4,310.4 894.8,402.1"/>
<polyline points="812.3,367.7 828.3,333.3 858.1,310.4"/>
<polyline points="125.9,480.0 127.1,700.0"/>
<polyline points="60.6,567.1 61.8,700.0"/>
<polyline points="43.4,693.1 56.0,693.1"/>
<polyline points="170.6,555.6 185.5,681.7"/>
<polyline points="222.2,480.0 242.8,700.0"/>
<polyline points="226.1,480.0 246.7,700.0"/>
<polyline points="127.1,593.4 232.5,583.1"/>
<polyline points="178.6,623.2 260.0,614.1"/>
<polyline points="182.1,653.0 260.0,643.9"/>
<polyline points="97.3,480.0 147.7,493.8 223.3,485.7"/>
<polyline points="379.2,480.0 397.5,555.6 412.4,619.8"/>
<polyline points="397.5,555.6 418.1,617.5"/>
<polyline points="404.4,480.0 425.0,554.5"/>
<polyline points="418.1,529.3 480.0,510.9"/>
<polyline points="399.8,562.5 480.0,539.6"/>
<polyline points="260.0,615.2 342.5,600.3"/>
<polyline points="300.1,615.2 307.0,670.2"/>
<polyline points="260.0,642.7 301.2,638.1"/>
<polyline points="260.0,672.5 305.8,669.1 412.4,619.8 480.0,578.5"/>
<polyline points="312.7,673.6 420.4,617.5 480.0,583.1"/>
<polyline points="260.0,681.7 312.7,673.6 320.7,700.0"/>
<polyline points="402.1,700.0 447.9,648.4 480.0,617.5"/>
<polyline points="480.0,508.6 500.6,505.2"/>
<polyline points="494.9,484.6 502.9,516.7"/>
<polyline points="515.5,480.0 527.0,524.7"/>
<polyline points="480.0,538.4 527.0,524.7"/>
<polyline points="545.3,480.0 555.6,514.4"/>
<polyline points="480.0,578.5 548.8,523.5 594.6,480.0"/>
<polyline points="484.6,576.2 502.9,582.0 543.0,574.0 533.9,536.1"/>
<polyline points="569.4,504.1 593.4,570.5"/>
<polyline points="574.0,509.8 656.5,486.9"/>
<polyline points="480.0,617.5 489.2,607.2 525.8,592.3 594.6,571.7 659.9,559.1 678.2,557.9"/>
<polyline points="638.1,493.8 659.9,560.2"/>
<polyline points="665.6,493.8 700.0,489.2"/>
<polyline points="675.9,523.5 700.0,520.1"/>
<polyline points="700.0,488.0 745.8,480.0"/>
<polyline points="700.0,517.8 753.9,507.0"/>
<polyline points="788.2,480.0 802.0,523.5 837.5,627.8"/>
<polyline points="788.2,535.0 818.0,627.8"/>
<polyline points="763.0,525.8 779.1,569.4 800.8,629.0 815.7,672.5"/>
<polyline points="752.7,571.7 775.6,642.7"/>
<polyline points="819.2,480.0 827.2,499.5 845.5,548.8 874.2,626.7"/>
<polyline points="853.5,480.0 863.9,500.6 876.5,531.6"/>
<polyline points="796.2,502.9 860.4,494.9 901.7,486.9"/>
<polyline points="802.0,523.5 788.2,535.0"/>
<polyline points="700.0,580.8 775.6,569.4"/>
<polyline points="735.5,596.9 759.6,593.4"/>
<polyline points="800.8,629.0 874.2,627.8"/>
<polyline points="815.7,672.5 853.5,678.2"/>
<polyline points="700.0,585.4 815.7,672.5"/>
<polyline points="906.2,532.7 920.0,530.4"/>
<polyline points="900.5,554.5 920.0,548.8"/>
<polyline points="897.1,578.5 920.0,570.5"/>
<polyline points="901.7,598.0 920.0,592.3"/>
<polyline points="908.5,617.5 920.0,614.1"/>
<polyline points="897.1,626.7 904.0,610.6"/>
<polyline points="915.4,530.4 920.0,539.6"/>
<polyline points="895.9,585.4 920.0,647.3"/>
<polyline points="877.6,629.0 910.8,629.0"/>
<polyline points="860.4,680.5 920.0,690.8"/>
<polyline points="907.4,480.0 920.0,480.0"/>
<polyline points="43.4,725.2 134.0,726.4"/>
<polyline points="61.8,700.0 60.6,803.1 46.9,813.4 43.4,813.4"/>
<polyline points="94.3,725.2 94.3,771.0"/>
<polyline points="60.6,772.2 120.2,773.3 172.9,776.8"/>
<polyline points="125.9,726.4 124.8,768.8 120.2,773.3"/>
<polyline points="120.2,773.3 90.4,791.7 68.6,821.5 59.5,920.0"/>
<polyline points="96.1,819.2 93.9,907.4"/>
<polyline points="96.1,819.2 124.8,818.0 140.8,815.7"/>
<polyline points="127.1,826.0 152.3,813.4 202.7,807.7"/>
<polyline points="124.8,818.0 128.2,826.0 125.9,837.5 123.6,846.7 122.5,869.6 125.9,899.4"/>
<polyline points="125.9,837.5 138.5,855.8 155.7,861.6 239.4,835.2"/>
<polyline points="106.5,849.0 123.6,847.8"/>
<polyline points="123.6,847.8 146.6,881.0 148.9,901.7 131.7,920.0"/>
<polyline points="122.5,865.0 134.0,861.6"/>
<polyline points="146.6,881.0 159.2,869.6 195.8,852.4"/>
<polyline points="146.6,881.0 179.8,893.6 211.9,877.6 250.8,842.1"/>
<polyline points="250.8,842.1 253.1,861.6 260.0,860.4"/>
<polyline points="186.7,897.1 260.0,874.2"/>
<polyline points="147.7,920.0 186.7,897.1"/>
<polyline points="210.7,889.1 217.6,894.8 221.0,884.5"/>
<polyline points="217.6,894.8 217.6,920.0"/>
<polyline points="43.4,907.4 95.0,907.4 120.2,902.8"/>
<polyline points="106.5,920.0 146.6,881.0"/>
<polyline points="125.9,889.1 136.2,887.9"/>
<polyline points="138.5,724.1 203.9,718.3"/>
<polyline points="184.4,719.5 191.2,780.2"/>
<polyline points="186.7,780.2 200.4,781.4 234.8,773.3 246.3,766.5 247.4,700.0"/>
<polyline points="214.2,805.4 250.8,777.9"/>
<polyline points="260.0,827.2 300.1,805.4 328.8,775.6 360.8,734.4 376.9,712.6 402.1,700.0"/>
<polyline points="300.1,805.4 312.7,798.5 354.0,760.7 381.5,726.4 402.1,700.0"/>
<polyline points="282.9,851.2 317.3,807.7 354.0,760.7"/>
<polyline points="316.1,837.5 319.6,816.9 356.2,757.3"/>
<polyline points="260.0,828.3 288.6,826.0 296.7,830.6 331.0,843.2"/>
<polyline points="260.0,838.6 287.5,831.8 297.8,835.2 328.8,846.7"/>
<polyline points="260.0,860.4 276.0,857.0"/>
<polyline points="260.0,871.9 276.0,857.0"/>
<polyline points="404.4,892.5 420.4,890.2 429.6,899.4 480.0,862.7"/>
<polyline points="461.7,876.5 461.7,920.0"/>
<polyline points="466.2,904.0 473.1,883.3 480.0,878.8"/>
<polyline points="428.4,906.2 434.2,920.0"/>
<polyline points="434.2,906.2 443.3,920.0"/>
<polyline points="427.3,920.0 434.2,910.8"/>
<polyline points="480.0,708.0 512.1,702.3"/>
<polyline points="480.0,862.7 514.4,867.3 612.9,865.0 632.4,874.2"/>
<polyline points="480.0,876.5 488.0,869.6 512.1,868.4"/>
<polyline points="480.0,883.3 501.8,878.8 521.2,901.7"/>
<polyline points="516.7,920.0 517.8,910.8"/>
<polyline points="553.3,920.0 649.6,883.3"/>
<polyline points="649.6,883.3 648.4,920.0"/>
<polyline points="620.9,920.0 633.5,906.2 645.0,917.7"/>
<polyline points="640.4,899.4 700.0,878.8"/>
<polyline points="640.4,881.0 700.0,874.2"/>
<polyline points="728.6,818.0 728.6,897.1"/>
<polyline points="728.6,818.0 771.0,816.9 838.6,839.8 840.2,920.0"/>
<polyline points="700.0,877.6 711.5,874.2 920.0,857.0"/>
<polyline points="700.0,870.7 727.5,869.6 920.0,861.6"/>
<polyline points="729.8,897.1 920.0,885.6"/>
<polyline points="756.1,895.9 756.1,920.0"/>
<polyline points="785.5,865.0 785.5,920.0"/>
<polyline points="811.6,892.5 811.6,920.0"/>
<polyline points="867.3,887.9 867.3,920.0"/>
<polyline points="894.8,855.8 895.9,920.0"/>
<polyline points="812.1,368.5 828.8,411.3 853.8,480"/>
<polyline points="800.6,425.8 828.8,410.2"/>
<polyline points="919.8,138.0 907.3,168.8"/>
<polyline points="863.8,248.7 870,265 892.6,322"/></g>
<path d="M601,61 C599.2,63.8 594.3,71.5 590,78 C585.7,84.5 580.0,93.0 575,100 C570.0,107.0 564.8,113.3 560,120 C555.2,126.7 551.0,133.3 546,140 C541.0,146.7 535.7,153.3 530,160 C524.3,166.7 518.7,173.7 512,180 C505.3,186.3 498.7,192.2 490,198 C481.3,203.8 468.3,209.3 460,215 C451.7,220.7 446.7,226.5 440,232 C433.3,237.5 425.6,243.3 420,248 C414.4,252.7 410.4,256.1 406.7,260 C402.9,263.9 402.9,265.0 397.5,271.5 C392.1,278.0 382.2,290.2 374.6,299 C367.0,307.8 359.3,315.8 351.7,324.2 C344.1,332.6 336.4,341.0 328.8,349.4 C321.2,357.8 311.5,367.4 305.8,374.6 C300.1,381.9 297.4,386.8 294.4,392.9 C291.3,399.0 288.8,405.6 287.5,411.3 C286.2,417.0 286.2,421.2 286.4,427.3 C286.6,433.4 287.7,439.1 288.6,447.9 C289.6,456.7 291.2,468.5 292.1,480 C293.0,491.5 293.7,510.8 294,517" fill="none" stroke="#0979BF" stroke-width="6.3"/>
<path d="M56,299.7 C63.8,299.7 89.5,299.8 102.5,299.7 C115.5,299.6 122.3,299.5 133.8,299.1 C145.3,298.7 160.9,297.5 171.3,297.5 C181.7,297.5 189.0,297.8 196.3,299.1 C203.6,300.4 208.8,302.2 215,305.3 C221.2,308.4 228.1,313.1 233.8,317.8 C239.5,322.5 244.7,327.4 249.4,333.4 C254.1,339.4 258.2,346.8 261.9,353.8 C265.5,360.8 268.7,368.3 271.3,375.6 C273.9,382.9 275.9,390.8 277.5,397.5 C279.1,404.2 279.5,408.2 280.6,415.8 C281.7,423.4 282.8,433.9 284.1,443.3 C285.4,452.8 287.1,463.5 288.4,472.5 C289.6,481.5 290.6,486.7 291.6,497.5 C292.6,508.3 293.5,524.9 294.4,537.3 C295.2,549.7 296.0,562.2 296.7,571.7 C297.4,581.2 298.2,588.0 298.3,594 C298.4,600.0 297.8,603.7 297,608 C296.2,612.3 295.0,615.9 293.3,620 C291.6,624.1 288.9,628.6 286.7,632.5 C284.5,636.4 282.6,639.8 280,643.3 C277.4,646.8 274.4,649.8 270.8,653.3 C267.2,656.8 262.5,661.0 258.3,664.2 C254.1,667.4 250.0,670.3 245.8,672.5 C241.6,674.7 238.2,676.0 233.3,677.5 C228.5,679.0 222.2,680.5 216.7,681.7 C211.1,682.9 210.3,683.5 200,684.6 C189.7,685.7 168.8,687.4 155,688.5 C141.2,689.6 133.5,690.4 117,691 C100.5,691.6 66.2,691.8 56,692" fill="none" stroke="#E41E26" stroke-width="6"/>
<path d="M70.9,566.6 C76.2,565.9 86.8,564.2 102.5,562.2 C118.2,560.2 146.2,556.9 165,554.8 C183.8,552.7 199.2,551.2 215,549.6 C230.8,548.0 244.9,546.8 260,545.3 C275.1,543.8 293.2,543.2 305.8,540.7 C318.4,538.2 324.1,534.6 335.6,530.4 C347.1,526.2 362.4,519.7 374.6,515.5 C386.8,511.3 397.6,508.6 409,505.2 C420.4,501.8 431.1,498.3 443.3,494.9 C455.5,491.5 468.2,489.6 482,485 C495.8,480.4 510.8,472.4 525.8,467.4 C540.8,462.4 558.0,458.2 571.7,454.8 C585.5,451.4 599.9,448.1 608.3,446.8 C616.7,445.5 617.5,445.9 622.1,446.8 C626.7,447.8 631.6,450.0 635.8,452.5 C640.0,455.0 644.3,458.8 647.3,461.7 C650.3,464.6 652.1,467.1 654,470 C655.9,472.9 657.0,475.6 658.7,479.4 C660.4,483.1 662.4,487.2 664.4,492.5 C666.4,497.8 668.7,504.6 670.9,511.2 C673.1,517.8 675.5,525.2 677.5,531.8 C679.5,538.4 681.2,543.7 683.1,550.6 C685.0,557.5 686.8,566.1 688.7,573 C690.6,579.9 692.4,585.9 694.3,591.8 C696.2,597.7 698.6,603.3 700,608.6 C701.4,613.9 702.2,616.7 702.8,623.6 C703.3,630.5 703.2,637.3 703.3,650 C703.4,662.7 703.3,681.7 703.3,700 C703.3,718.3 703.2,736.7 703.2,760 C703.2,783.3 703.6,824.0 703.2,840 C702.8,856.0 702.2,851.0 701,856 C699.8,861.0 697.7,865.7 696,870 C694.3,874.3 692.6,878.2 691,882 C689.4,885.8 689.2,888.3 686.2,892.8 C683.2,897.3 675.3,906.4 673.1,909.1" fill="none" stroke="#008000" stroke-width="6"/>
<ellipse cx="482.8" cy="484.9" rx="423.7" ry="422.4" fill="none" stroke="#000" stroke-width="6.5"/>
<path d="M453.6,274.9 L474.3,273.8 M491.3,271.3 L508.8,276.3 M526.3,277.5 L545,283.8 M560,288.8 L577.5,297.5 M592.5,305 L607.5,315 M621.3,327.5 L636.3,337.5 M647.5,355 L661.3,370 M671.3,395 L682.5,412.5 M685,432.5 L692.5,451.3 M692.5,465 L695.3,481.3 M692.5,494.4 L692.5,511.2 M689.6,525.3 L685.9,541.2 M680.3,556.2 L676.5,571.2 M668.1,584.3 L661.5,599.3 M651.2,611.4 L644.7,623.6 M630.1,633.5 L620.9,643.9 M604.9,657.6 L590,665.6 M570.5,675.9 L552.2,684 M528.1,689.7 L510.9,695.4 M489.2,695.3 L470.8,694.8 M452.5,694.3 L436.5,688.5 M418.1,686.3 L402.1,680.5 M386,673.6 L372.3,663.3 M356.3,654.2 L343.6,643.9 M328.8,630.1 L317.3,616.4 M303.5,598 L292.1,579.7 M282.9,556.8 L277.2,540.7 M274.9,522.4 L270.3,505.2 M272.6,488 L269.2,472 M271.5,456 L276,441 M276,428.4 L281.8,413.5 M287.5,399.8 L296.7,386 M301.3,372.3 L311.6,359.7 M319.6,347.1 L333.3,333.3 M344.8,320.7 L359.7,313.9 M372.3,301.3 L391.8,295.5 M411.3,285.2 L433,279.5" fill="none" stroke="#000" stroke-width="6.5"/>
<path d="M481.8,378.7 L488.2,378.9 M499.4,381.4 L505.6,382.6 M515.8,385.2 L521.8,387.4 M529.7,389.8 L535.3,392.8 M545.5,400.0 L550.5,404.0 M560.4,414.6 L564.6,419.4 M574.0,433.0 L577.0,438.6 M582.0,450.0 L584.0,456.0 M586.3,467.3 L587.3,473.7 M588.0,483.8 L588.0,490.2 M587.1,497.4 L586.1,503.8 M585.1,510.1 L583.5,516.3 M579.8,525.2 L577.2,531.0 M573.4,538.0 L570.0,543.4 M564.6,550.9 L560.4,555.7 M550.1,565.1 L545.1,569.1 M535.5,575.9 L529.9,578.9 M516.3,584.4 L510.1,586.4 M498.1,589.6 L491.7,590.4 M479.8,590.2 L473.4,589.8 M464.8,589.5 L458.6,588.3 M449.8,585.4 L443.8,583.2 M436.3,580.0 L430.7,577.0 M421.9,570.8 L416.7,567.0 M407.7,559.8 L403.3,555.2 M396.3,546.9 L392.7,541.5 M384.3,527.0 L381.9,521.0 M379.1,509.0 L377.9,502.8 M375.8,493.5 L375.6,487.1 M376.6,478.6 L377.2,472.2 M377.3,464.8 L378.7,458.6 M381.5,450.9 L383.7,444.9 M385.7,438.8 L388.7,433.2 M393.0,426.5 L396.6,421.3 M402.6,414.0 L407.0,409.4 M413.3,403.6 L418.3,399.6 M426.8,394.5 L432.4,391.3 M444.9,385.9 L450.9,383.9 M464.2,379.6 L470.6,378.8" fill="none" stroke="#000" stroke-width="6.4"/>
<circle cx="482" cy="485.5" r="9" fill="#000"/>
<text x="42" y="41" font-family="Liberation Sans, Arial, sans-serif" font-size="34.3">Zoning around Quarters LRT station</text>
<text x="935.5" y="251.2" font-family="Liberation Sans, Arial, sans-serif" font-size="29.3">Radius</text>
<rect x="941" y="288" width="6" height="6"/><rect x="965" y="288" width="6" height="6"/>
<rect x="941" y="334" width="24" height="6"/>
<rect x="941" y="380" width="37" height="6"/>
<text x="996.5" y="301" font-family="Liberation Sans, Arial, sans-serif" font-size="23.3">200m</text>
<text x="996.5" y="347" font-family="Liberation Sans, Arial, sans-serif" font-size="23.3">400m</text>
<text x="996.5" y="393" font-family="Liberation Sans, Arial, sans-serif" font-size="23.3">800m</text>
<text x="935" y="451.2" font-family="Liberation Sans, Arial, sans-serif" font-size="29">Area type</text>
<rect x="938.4" y="469" width="42" height="42" fill="#B35555" stroke="#4d4d4d" stroke-width="1.9"/>
<text x="996.5" y="501" font-family="Liberation Sans, Arial, sans-serif" font-size="23">Commercial</text>
<rect x="938.4" y="515" width="42" height="42" fill="#66E5D8" stroke="#4d4d4d" stroke-width="1.9"/>
<text x="996.5" y="547" font-family="Liberation Sans, Arial, sans-serif" font-size="23">Direct control</text>
<rect x="938.4" y="561" width="42" height="42" fill="#FDE433" stroke="#4d4d4d" stroke-width="1.9"/>
<text x="996.5" y="593" font-family="Liberation Sans, Arial, sans-serif" font-size="23">Low rise</text>
<rect x="938.4" y="607" width="42" height="42" fill="#F9D04F" stroke="#4d4d4d" stroke-width="1.9"/>
<text x="996.5" y="639" font-family="Liberation Sans, Arial, sans-serif" font-size="23">Low to mid rise</text>
<rect x="938.4" y="653" width="42" height="42" fill="#FBB233" stroke="#4d4d4d" stroke-width="1.9"/>
<text x="996.5" y="685" font-family="Liberation Sans, Arial, sans-serif" font-size="23">Mid rise</text>
<rect x="938.4" y="699" width="42" height="42" fill="#35A035" stroke="#4d4d4d" stroke-width="1.9"/>
<text x="996.5" y="731" font-family="Liberation Sans, Arial, sans-serif" font-size="23">Recreational/Civic/Institutional</text>
<text x="921.2" y="955" text-anchor="end" font-family="Liberation Sans, Arial, sans-serif" font-size="22.6">Data City of Edmonton, viz Jacob Dawang</text>
</svg></body></html>
